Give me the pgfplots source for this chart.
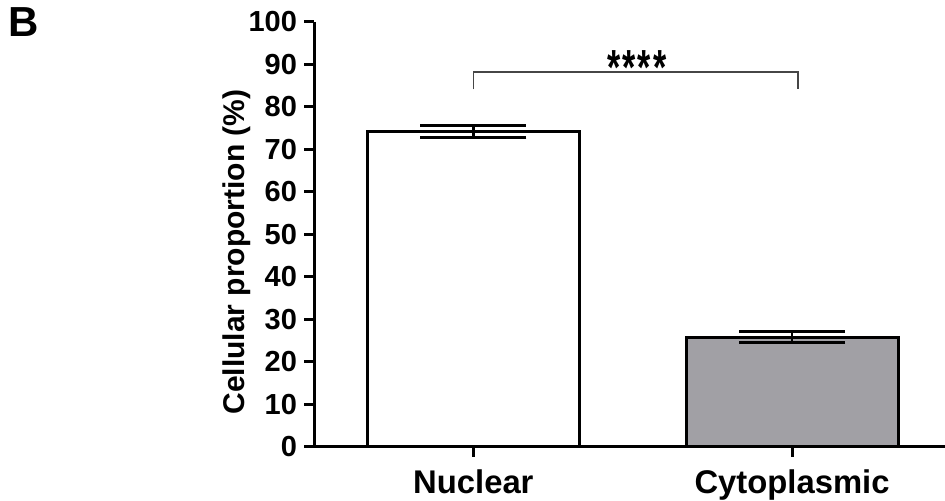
\documentclass[border=0pt]{standalone}
\usepackage{fontspec}
\setmainfont{Liberation Sans}
\usepackage{pgfplots}
\pgfplotsset{compat=1.18}
\definecolor{barG}{RGB}{161,160,165}
\definecolor{brk}{RGB}{70,70,70}
\begin{document}
\begin{tikzpicture}
  \path[use as bounding box] (-157pt,-27.15pt) rectangle (315.5pt,223.35pt);
  \begin{axis}[
      at={(0,0)}, anchor=south west,
      scale only axis, width=315.5pt, height=212.5pt,
      xmin=-0.5, xmax=1.48, ymin=0, ymax=100,
      axis x line*=bottom, axis y line*=left,
      ytick={0,10,...,100},
      xtick={0,1}, xticklabels={Nuclear,Cytoplasmic},
      tick align=outside, major tick length=5pt,
      tick style={line width=1.5pt, black},
      axis line style={line width=1.5pt},
      ybar, bar width=106pt, bar shift=0pt,
      yticklabel style={font=\bfseries\fontsize{14.5}{16}\selectfont},
      xticklabel style={font=\bfseries\fontsize{16.4}{19}\selectfont, yshift=-3pt},
      /pgf/number format/assume math mode=true,
      clip=false,
    ]
    \addplot[fill=white, draw=black, line width=1.5pt,
      error bars/.cd, y dir=both, y explicit, error mark=|,
      error bar style={line width=1.4pt, black},
      error mark options={mark size=26.5pt, line width=1.5pt, black}]
      coordinates {(0,74.1) +- (0,1.4)};
    \addplot[fill=barG, draw=black, line width=1.5pt,
      error bars/.cd, y dir=both, y explicit, error mark=|,
      error bar style={line width=1.4pt, black},
      error mark options={mark size=26.5pt, line width=1.5pt, black}]
      coordinates {(1,25.8) +- (0,1.2)};
    % significance bracket
    \draw[line width=0.75pt, brk] (axis cs:0,84.1) -- (axis cs:0,88.2)
      -- (axis cs:1.018,88.2) -- (axis cs:1.018,84.1);
    \node[font=\bfseries\fontsize{17}{20}\selectfont, anchor=base, inner sep=0pt]
      at (axis cs:0.513,85.2) {\scalebox{1}[1.45]{*\kern0.06em*\kern0.06em*\kern0.06em*}};
  \end{axis}
  \node[rotate=90, font=\bfseries\fontsize{15}{18}\selectfont] at (-38.5pt,97.35pt)
    {Cellular proportion (\%)};
  \node[font=\bfseries\fontsize{21}{25}\selectfont] at (-145pt,212.35pt) {B};
\end{tikzpicture}
\end{document}
